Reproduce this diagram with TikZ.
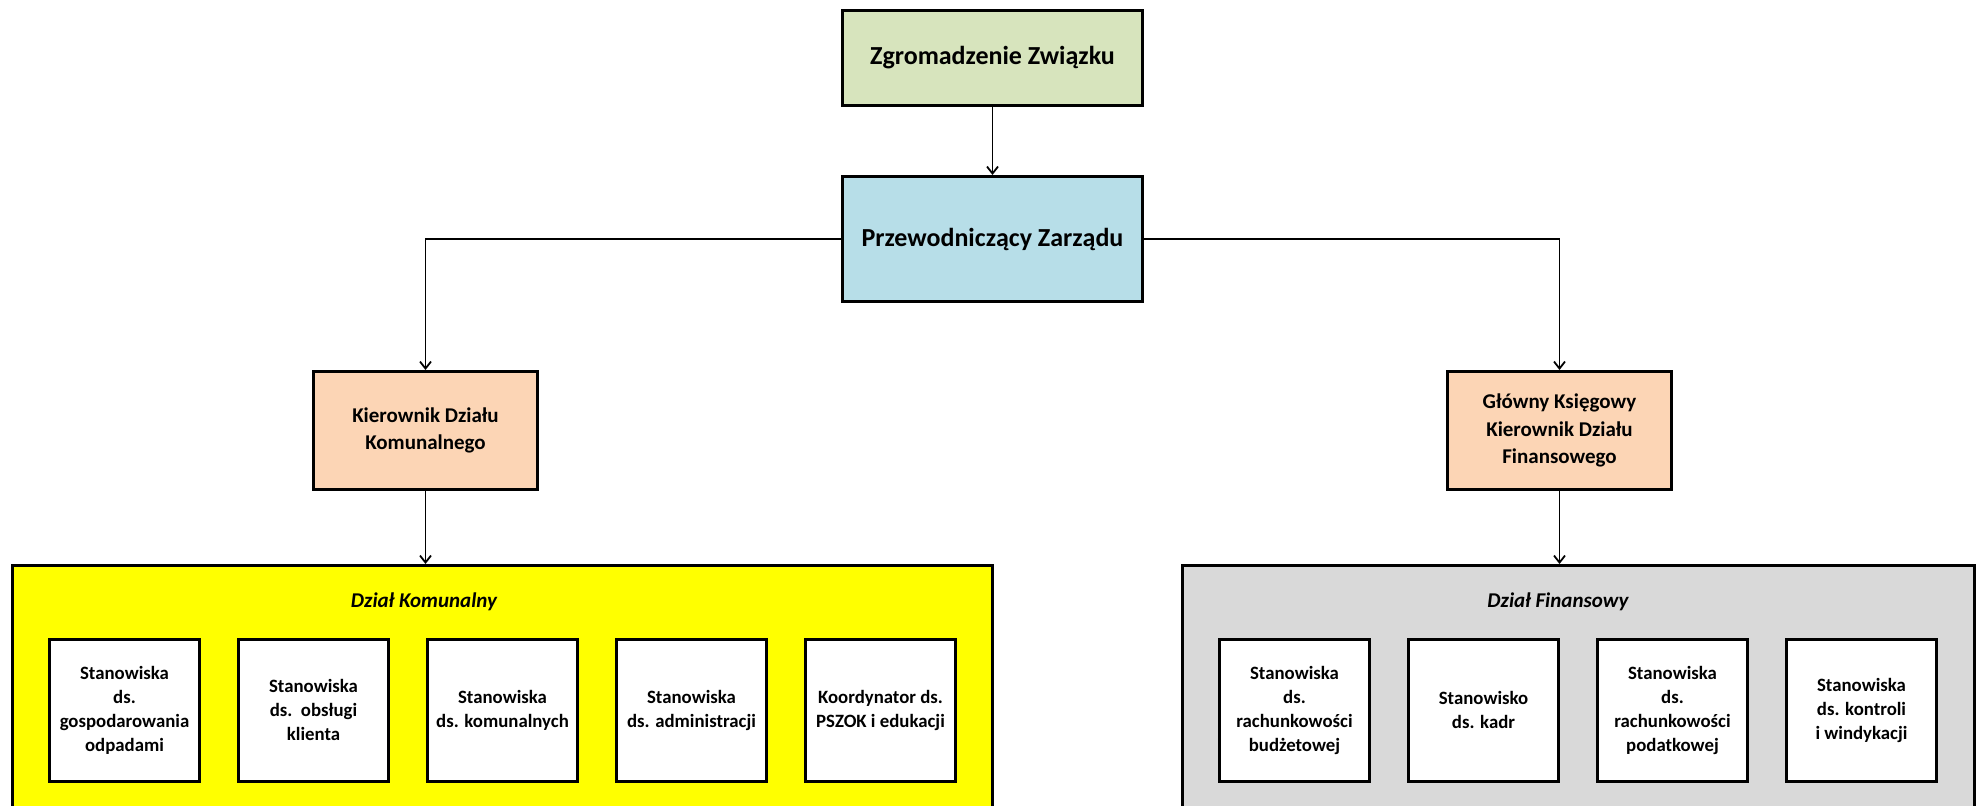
\documentclass[tikz,border=0pt]{standalone}
\usepackage{fontspec}
\setmainfont{Carlito}
\usepackage{xcolor}
\usetikzlibrary{arrows.meta, positioning}
\definecolor{assemblygreen}{HTML}{D7E4BD}
\definecolor{boardblue}{HTML}{B7DEE8}
\definecolor{headpeach}{HTML}{FCD5B5}
\definecolor{komyellow}{HTML}{FFFF00}
\definecolor{fingray}{HTML}{D9D9D9}

\begin{document}
\begin{tikzpicture}[
    x=0.5pt, y=-0.5pt,
    node distance=18pt,
    topbox/.style={
        draw=black, line width=1.5pt,
        rectangle, minimum width=150pt,
        inner sep=2pt, align=center,
        font=\bfseries\fontsize{13}{16}\selectfont
    },
    headbox/.style={
        draw=black, line width=1.5pt, fill=headpeach,
        rectangle, minimum width=112pt, minimum height=59pt,
        inner sep=2pt, align=center,
        font=\bfseries\fontsize{10.5}{13.7}\selectfont
    },
    deptbox/.style={
        draw=black, line width=1.5pt,
        rectangle, minimum height=150pt,
        anchor=north west, inner sep=0pt
    },
    deptlabel/.style={
        font=\bfseries\itshape\fontsize{10.5}{13}\selectfont
    },
    postbox/.style={
        draw=black, line width=1.5pt, fill=white,
        rectangle, minimum width=75pt, minimum height=71pt,
        inner sep=2pt, align=center,
        font=\bfseries\fontsize{9.4}{12}\selectfont
    },
    arr/.style={
        -{Straight Barb[length=3.5pt, width=5.5pt]}, line width=0.9pt, draw=black
    },
]
\useasboundingbox (0,0) rectangle (1978,805);
\clip (0,0) rectangle (1978,805);

% top levels
\node[topbox, fill=assemblygreen, minimum height=47.5pt] (zgr) at (992.5,58) {Zgromadzenie Związku};
\node[topbox, fill=boardblue, minimum height=62.5pt] (prz) at (992.5,239) {Przewodniczący Zarządu};
\node[headbox] (kier) at (425.5,430.5) {Kierownik Działu\\Komunalnego};
\node[headbox] (glow) at (1559.5,430.5) {Główny Księgowy\\Kierownik Działu\\Finansowego};

% departments
\node[deptbox, fill=komyellow, minimum width=490pt] (kom) at (11,564) {};
\node[deptbox, fill=fingray, minimum width=396pt] (fin) at (1181,564) {};
\node[deptlabel] (komlbl) at (424,602) {Dział Komunalny};
\node[deptlabel] (finlbl) at (1558,602) {Dział Finansowy};

\node[postbox] (kom1) at (124.5,710) {Stanowiska\\ds.\\gospodarowania\\odpadami};
\node[postbox, right=of kom1] (kom2) {Stanowiska\\ds.~~obsługi\\klienta};
\node[postbox, right=of kom2] (kom3) {Stanowiska\\ds. komunalnych};
\node[postbox, right=of kom3] (kom4) {Stanowiska\\ds. administracji};
\node[postbox, right=of kom4] (kom5) {Koordynator ds.\\PSZOK i edukacji};

\node[postbox] (fin1) at (1294.5,710) {Stanowiska\\ds.\\rachunkowości\\budżetowej};
\node[postbox, right=of fin1] (fin2) {Stanowisko\\ds. kadr};
\node[postbox, right=of fin2] (fin3) {Stanowiska\\ds.\\rachunkowości\\podatkowej};
\node[postbox, right=of fin3] (fin4) {Stanowiska\\ds. kontroli\\i windykacji};

% connectors
\draw[arr] (zgr) -- (prz);
\draw[arr] (prz.west) -| (kier.north);
\draw[arr] (prz.east) -| (glow.north);
\draw[arr] (kier.south) -- (kier.south |- kom.north);
\draw[arr] (glow.south) -- (glow.south |- fin.north);
\end{tikzpicture}
\end{document}
